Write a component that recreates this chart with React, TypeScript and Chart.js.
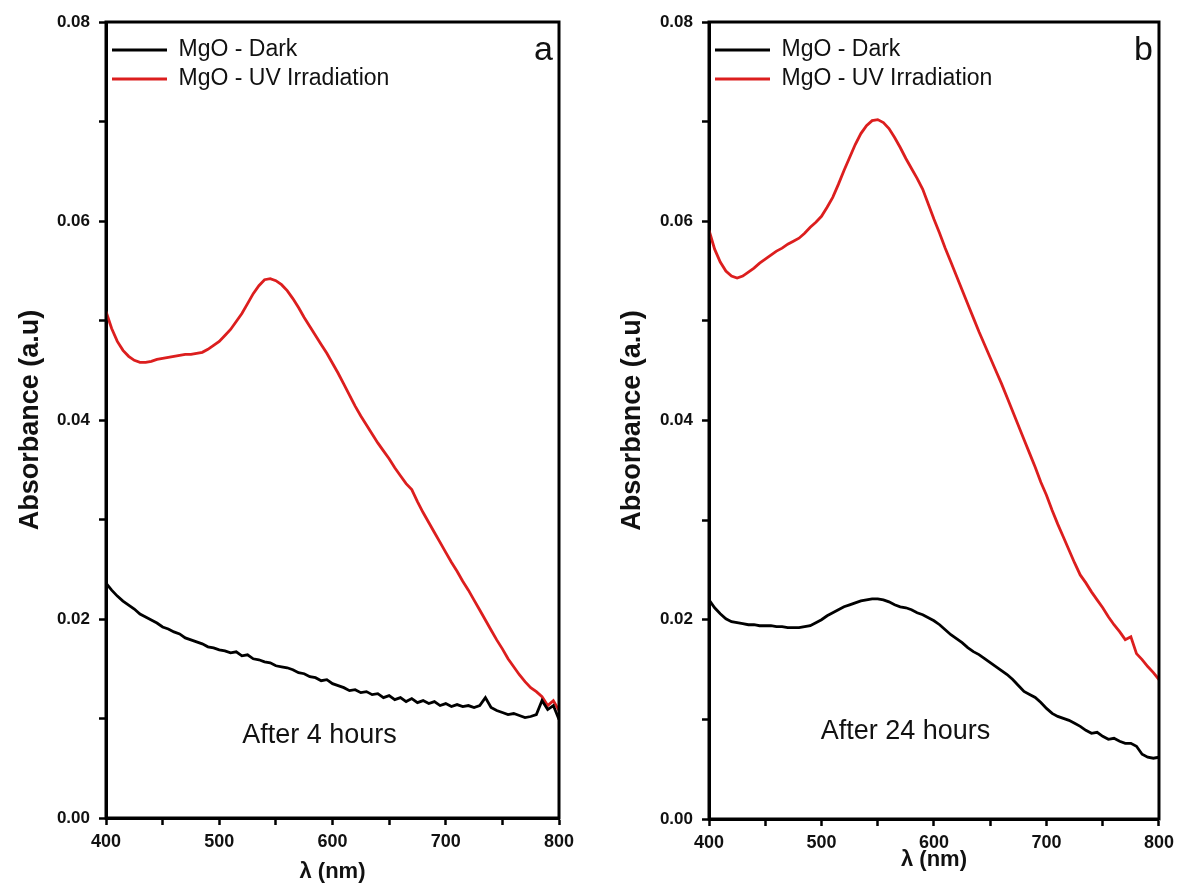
import React, { useEffect, useRef } from 'react';
import { Chart, registerables } from 'chart.js';

Chart.register(...registerables);

const wavelengths = [
  400, 405, 410, 415, 420, 425, 430, 435, 440, 445, 450, 455, 460, 465, 470, 475, 480, 485, 490, 495,
  500, 505, 510, 515, 520, 525, 530, 535, 540, 545, 550, 555, 560, 565, 570, 575, 580, 585, 590, 595,
  600, 605, 610, 615, 620, 625, 630, 635, 640, 645, 650, 655, 660, 665, 670, 675, 680, 685, 690, 695,
  700, 705, 710, 715, 720, 725, 730, 735, 740, 745, 750, 755, 760, 765, 770, 775, 780, 785, 790, 795,
  800,
];

// Panel a (after 4 hours)
const darkA = [
  0.0236, 0.0229, 0.0223, 0.0218, 0.0214, 0.021, 0.0205, 0.0202, 0.0199, 0.0196, 0.0192, 0.019, 0.0187, 0.0185, 0.0181, 0.0179, 0.0177, 0.0175, 0.0172, 0.0171,
  0.0169, 0.0168, 0.0166, 0.0167, 0.0163, 0.0164, 0.016, 0.0159, 0.0157, 0.0156, 0.0153, 0.0152, 0.0151, 0.0149, 0.0146, 0.0145, 0.0142, 0.0141, 0.0138, 0.0139,
  0.0135, 0.0133, 0.0131, 0.0128, 0.0129, 0.0126, 0.0127, 0.0124, 0.0125, 0.0121, 0.0123, 0.0119, 0.0121, 0.0117, 0.012, 0.0116, 0.0118, 0.0115, 0.0117, 0.0113,
  0.0115, 0.0112, 0.0114, 0.0112, 0.0113, 0.0111, 0.0113, 0.0121, 0.0111, 0.0108, 0.0106, 0.0104, 0.0105, 0.0103, 0.0101, 0.0102, 0.0104, 0.0118, 0.0109, 0.0113,
  0.0099,
];
const uvA = [
  0.0509, 0.0492, 0.0479, 0.047, 0.0464, 0.046, 0.0458, 0.0458, 0.0459, 0.0461, 0.0462, 0.0463, 0.0464, 0.0465, 0.0466, 0.0466, 0.0467, 0.0468, 0.0471, 0.0475,
  0.0479, 0.0485, 0.0491, 0.0499, 0.0507, 0.0517, 0.0527, 0.0535, 0.0541, 0.0542, 0.054, 0.0536, 0.053, 0.0522, 0.0513, 0.0503, 0.0494, 0.0485, 0.0476, 0.0467,
  0.0457, 0.0447, 0.0436, 0.0425, 0.0414, 0.0404, 0.0395, 0.0386, 0.0377, 0.0369, 0.0361, 0.0352, 0.0344, 0.0336, 0.033, 0.0318, 0.0307, 0.0297, 0.0287, 0.0277,
  0.0267, 0.0257, 0.0248, 0.0238, 0.0229, 0.0219, 0.0209, 0.0199, 0.0189, 0.0179, 0.017, 0.016, 0.0152, 0.0144, 0.0137, 0.0131, 0.0127, 0.0122, 0.0113, 0.0118,
  0.0108,
];

// Panel b (after 24 hours)
const darkB = [
  0.022, 0.0212, 0.0206, 0.0201, 0.0198, 0.0197, 0.0196, 0.0195, 0.0195, 0.0194, 0.0194, 0.0194, 0.0193, 0.0193, 0.0192, 0.0192, 0.0192, 0.0193, 0.0194, 0.0197,
  0.02, 0.0204, 0.0207, 0.021, 0.0213, 0.0215, 0.0217, 0.0219, 0.022, 0.0221, 0.0221, 0.022, 0.0218, 0.0215, 0.0213, 0.0212, 0.021, 0.0207, 0.0205, 0.0202,
  0.0199, 0.0195, 0.019, 0.0185, 0.0181, 0.0177, 0.0172, 0.0168, 0.0165, 0.0161, 0.0157, 0.0153, 0.0149, 0.0145, 0.014, 0.0134, 0.0128, 0.0125, 0.0122, 0.0117,
  0.0111, 0.0106, 0.0103, 0.0101, 0.0099, 0.0096, 0.0093, 0.0089, 0.0086, 0.0087, 0.0083, 0.008, 0.0081, 0.0078, 0.0076, 0.0076, 0.0073, 0.0065, 0.0062, 0.0061,
  0.0062,
];
const uvB = [
  0.0591, 0.0572, 0.0559, 0.055, 0.0545, 0.0543, 0.0545, 0.0549, 0.0553, 0.0558, 0.0562, 0.0566, 0.057, 0.0573, 0.0577, 0.058, 0.0583, 0.0588, 0.0594, 0.0599,
  0.0605, 0.0614, 0.0624, 0.0637, 0.0651, 0.0664, 0.0677, 0.0688, 0.0696, 0.0701, 0.0702, 0.0699, 0.0693, 0.0684, 0.0674, 0.0663, 0.0653, 0.0643, 0.0632, 0.0617,
  0.0602, 0.0588, 0.0573, 0.0559, 0.0545, 0.0531, 0.0517, 0.0503, 0.0489, 0.0476, 0.0463, 0.045, 0.0437, 0.0423, 0.0409, 0.0395, 0.0381, 0.0367, 0.0353, 0.0338,
  0.0325, 0.031, 0.0296, 0.0283, 0.027, 0.0257, 0.0245, 0.0237, 0.0228, 0.022, 0.0212, 0.0203, 0.0195, 0.0188, 0.018, 0.0183, 0.0166, 0.016, 0.0153, 0.0147,
  0.014,
];

const seriesLabels = ['MgO - Dark', 'MgO - UV Irradiation'];
const seriesColors = ['#000000', '#dc1e1e'];
const xTickLabels = ['400', '500', '600', '700', '800'];
const yTickLabels = ['0.00', '0.02', '0.04', '0.06', '0.08'];
const xTitle = 'λ (nm)';
const yTitle = 'Absorbance (a.u)';

const FONT = "'Liberation Sans', Arial, Helvetica, sans-serif";

type PanelSpec = {
  left: number;
  width: number;
  dark: number[];
  uv: number[];
  letter: string;
  note: string;
  noteX: number;
  noteY: number;
  padRight: number;
  yWidth: number;
  xHeight: number;
  yTitlePad: number;
  xTitlePad: number;
};

const panels: PanelSpec[] = [
  {
    left: 0, width: 600, dark: darkA, uv: uvA, letter: 'a', note: 'After 4 hours',
    noteX: 588.5, noteY: 0.0083, padRight: 41, yWidth: 106, xHeight: 65, yTitlePad: 14, xTitlePad: -2,
  },
  {
    left: 600, width: 580, dark: darkB, uv: uvB, letter: 'b', note: 'After 24 hours',
    noteX: 574.7, noteY: 0.0088, padRight: 20, yWidth: 109, xHeight: 64, yTitlePad: 16, xTitlePad: 10,
  },
];

const framePlugin = {
  id: 'frameBox',
  afterDraw(chart: any) {
    const { ctx, chartArea } = chart;
    ctx.save();
    ctx.strokeStyle = '#000';
    ctx.lineWidth = 3;
    ctx.strokeRect(chartArea.left, chartArea.top, chartArea.right - chartArea.left, chartArea.bottom - chartArea.top);
    ctx.restore();
  },
};

const notesPlugin = {
  id: 'panelNotes',
  afterDraw(chart: any, _args: any, opts: any) {
    const { ctx, chartArea, scales } = chart;
    ctx.save();
    ctx.fillStyle = '#111';
    ctx.font = `27px ${FONT}`;
    ctx.textAlign = 'center';
    ctx.textBaseline = 'middle';
    ctx.fillText(opts.note, scales.x.getPixelForValue(opts.noteX), scales.y.getPixelForValue(opts.noteY));
    ctx.font = `34px ${FONT}`;
    ctx.textAlign = 'right';
    ctx.textBaseline = 'alphabetic';
    ctx.fillText(opts.letter, chartArea.right - 6, chartArea.top + 38);
    ctx.restore();
  },
};

function Panel({ spec }: { spec: PanelSpec }) {
  const ref = useRef<HTMLCanvasElement>(null);
  useEffect(() => {
    if (!ref.current) return;
    const mk = (vals: number[]) => wavelengths.map((x, i) => ({ x, y: vals[i] }));
    const chart = new Chart(ref.current, {
      type: 'line',
      data: {
        datasets: [
          {
            label: seriesLabels[0], data: mk(spec.dark), borderColor: seriesColors[0], backgroundColor: seriesColors[0],
            borderWidth: 2.8, pointRadius: 0, tension: 0,
          },
          {
            label: seriesLabels[1], data: mk(spec.uv), borderColor: seriesColors[1], backgroundColor: seriesColors[1],
            borderWidth: 2.8, pointRadius: 0, tension: 0,
          },
        ],
      },
      options: {
        responsive: false,
        animation: false,
        devicePixelRatio: 1,
        layout: { padding: { top: 22, right: spec.padRight, left: 0, bottom: 0 } },
        plugins: {
          tooltip: { enabled: false },
          legend: {
            position: 'chartArea',
            align: 'start',
            title: { display: true, text: ' ', font: { size: 5 }, padding: { top: 26.5, bottom: 0 } },
            labels: {
              usePointStyle: true,
              pointStyle: 'line',
              pointStyleWidth: 55,
              padding: 6,
              color: '#111',
              font: { family: FONT, size: 23 },
            },
          },
          panelNotes: { note: spec.note, noteX: spec.noteX, noteY: spec.noteY, letter: spec.letter },
        } as any,
        scales: {
          x: {
            type: 'linear',
            min: 400,
            max: 800,
            afterFit: (s: any) => { s.height = spec.xHeight; },
            ticks: {
              stepSize: 50,
              autoSkip: false,
              maxRotation: 0,
              padding: 6,
              color: '#111',
              font: { family: FONT, size: 18, weight: 'bold' },
              callback: (v: any) => {
                const s = String(Math.round(Number(v)));
                return xTickLabels.includes(s) ? s : '';
              },
            },
            grid: { drawOnChartArea: false, drawTicks: true, tickLength: 7, tickWidth: 2.5, tickColor: '#000' },
            border: { display: true, color: '#000', width: 3 },
            title: {
              display: true, text: xTitle, color: '#111',
              font: { family: FONT, size: 22, weight: 'bold' },
              padding: { top: 0, bottom: spec.xTitlePad },
            },
          },
          y: {
            type: 'linear',
            min: 0,
            max: 0.08,
            afterFit: (s: any) => { s.width = spec.yWidth; },
            ticks: {
              stepSize: 0.01,
              autoSkip: false,
              padding: 9,
              color: '#111',
              font: { family: FONT, size: 17, weight: 'bold' },
              callback: (v: any) => {
                const s = (Math.round(Number(v) * 100) / 100).toFixed(2);
                return yTickLabels.includes(s) ? s : '';
              },
            },
            grid: { drawOnChartArea: false, drawTicks: true, tickLength: 7, tickWidth: 2.5, tickColor: '#000' },
            border: { display: true, color: '#000', width: 3 },
            title: {
              display: true, text: yTitle, color: '#111',
              font: { family: FONT, size: 27, weight: 'bold' },
              padding: { top: spec.yTitlePad, bottom: 0 },
            },
          },
        },
      },
      plugins: [framePlugin, notesPlugin],
    } as any);
    return () => chart.destroy();
  }, [spec]);
  return (
    <div style={{ position: 'absolute', left: spec.left, top: 0, width: spec.width, height: 883 }}>
      <canvas ref={ref} width={spec.width} height={883} style={{ display: 'block' }} />
    </div>
  );
}

export default function App() {
  return (
    <div style={{ position: 'absolute', left: 0, top: 0, width: 1180, height: 883, background: '#fff', overflow: 'hidden' }}>
      {panels.map((p) => (
        <Panel key={p.letter} spec={p} />
      ))}
    </div>
  );
}
